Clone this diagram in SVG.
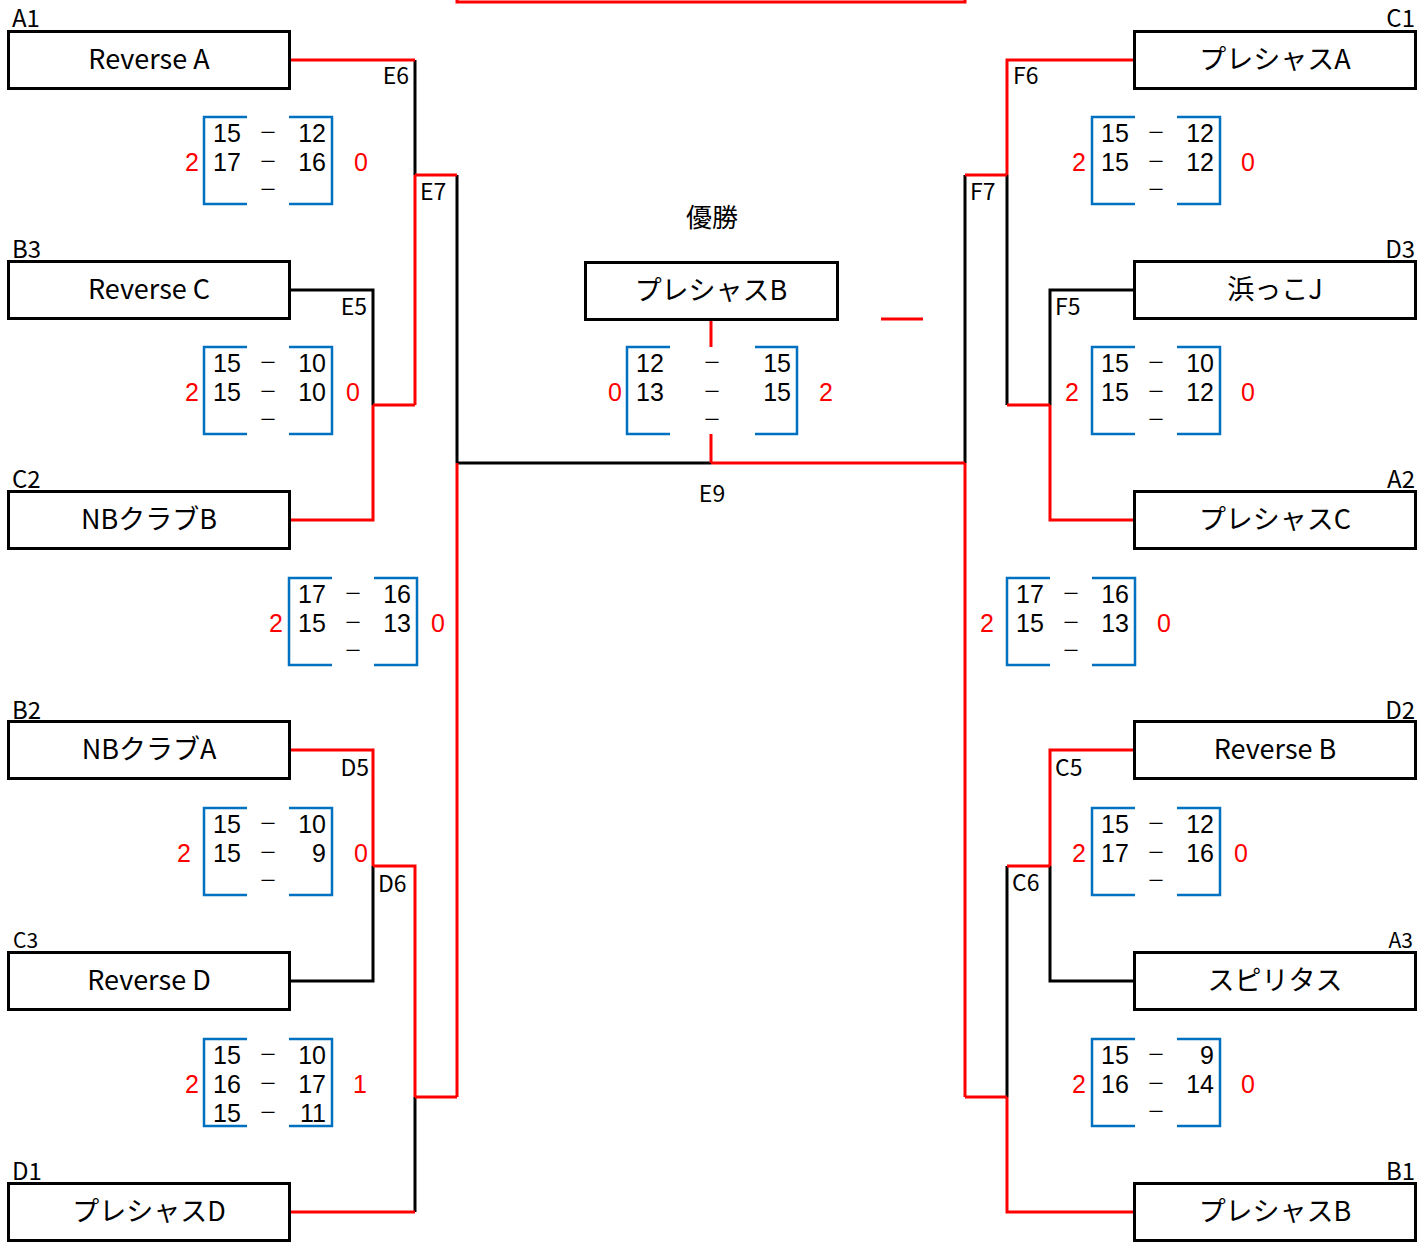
<svg xmlns="http://www.w3.org/2000/svg" width="1427" height="1242" viewBox="0 0 1427 1242">
<style>
text{font-family:"Noto Sans CJK JP","Noto Sans",sans-serif;fill:#000}
.box{fill:#fff;stroke:#000;stroke-width:3}
.nm{font-size:27px;text-anchor:middle}
.lb{font-size:24px}
.lbs{font-size:21px}
.jl{font-size:23px}
.k{fill:none;stroke:#000;stroke-width:3}
.r{fill:none;stroke:#f00;stroke-width:3}
.br{fill:none;stroke:#0070c0;stroke-width:2.5}
.sc{font-family:"Liberation Sans",Arial,sans-serif;font-size:25px}
.dash{font-size:18px;text-anchor:middle}
.e{text-anchor:end}
.w{font-family:"Liberation Sans",Arial,sans-serif;font-size:25px;fill:#f00;text-anchor:middle}
</style>
<defs>
<g id="brk"><path class="br" d="M43,0H0V87H43"/><path class="br" d="M85,0H128V87H85"/></g>
</defs>

<rect x="457" y="-10" width="508" height="12" fill="none" stroke="#f00" stroke-width="3"/>

<g id="connectors">
<path class="k" d="M415,60V175"/>
<path class="k" d="M457,175V463"/>
<path class="k" d="M290,290H373V405"/>
<path class="k" d="M457,463H711"/>
<path class="k" d="M373,866V981H290"/>
<path class="k" d="M415,1097V1212"/>
<path class="k" d="M965,175V463"/>
<path class="k" d="M1007,175V405"/>
<path class="k" d="M1134,290H1050V405"/>
<path class="k" d="M1050,866V981H1134"/>
<path class="k" d="M1007,866V1097"/>
<path class="r" d="M290,60H415"/>
<path class="r" d="M415,175H457"/>
<path class="r" d="M415,175V405"/>
<path class="r" d="M373,405H415"/>
<path class="r" d="M373,405V520H290"/>
<path class="r" d="M711,463H965"/>
<path class="r" d="M457,463V1097"/>
<path class="r" d="M290,750H373V866"/>
<path class="r" d="M373,866H415V1097"/>
<path class="r" d="M415,1097H457"/>
<path class="r" d="M415,1212H290"/>
<path class="r" d="M1134,60H1007V175"/>
<path class="r" d="M1007,175H965"/>
<path class="r" d="M965,463V1097"/>
<path class="r" d="M1007,405H1050"/>
<path class="r" d="M1050,405V520H1134"/>
<path class="r" d="M1134,750H1050V866"/>
<path class="r" d="M1050,866H1007"/>
<path class="r" d="M965,1097H1007"/>
<path class="r" d="M1007,1097V1212H1134"/>
<path class="r" d="M711,320V347"/>
<path class="r" d="M711,434V463"/>
<path class="r" d="M881,319H923"/>
</g>

<g id="junction-labels">
<text class="jl e" x="409" y="84">E6</text>
<text class="jl" x="420" y="200">E7</text>
<text class="jl e" x="367" y="315">E5</text>
<text class="jl e" x="369" y="776">D5</text>
<text class="jl" x="378" y="892">D6</text>
<text class="jl" x="1013" y="84">F6</text>
<text class="jl" x="970" y="200">F7</text>
<text class="jl" x="1055" y="315">F5</text>
<text class="jl" x="1055" y="776">C5</text>
<text class="jl" x="1012" y="891">C6</text>
<text class="jl" x="712" y="502" text-anchor="middle">E9</text>
</g>

<g id="team-A1"><text class="lb" x="12" y="27">A1</text><rect class="box" x="8.5" y="31.5" width="281" height="57"/><text class="nm" x="149" y="69">Reverse A</text></g>
<g id="team-B3"><text class="lb" x="12" y="258">B3</text><rect class="box" x="8.5" y="261.5" width="281" height="57"/><text class="nm" x="149" y="299">Reverse C</text></g>
<g id="team-C2"><text class="lb" x="12" y="488">C2</text><rect class="box" x="8.5" y="491.5" width="281" height="57"/><text class="nm" x="149" y="529">NBクラブB</text></g>
<g id="team-B2"><text class="lb" x="12" y="719">B2</text><rect class="box" x="8.5" y="721.5" width="281" height="57"/><text class="nm" x="149" y="759">NBクラブA</text></g>
<g id="team-C3"><text class="lbs" x="13" y="948">C3</text><rect class="box" x="8.5" y="952.5" width="281" height="57"/><text class="nm" x="149" y="990">Reverse D</text></g>
<g id="team-D1"><text class="lb" x="12" y="1180">D1</text><rect class="box" x="8.5" y="1183.5" width="281" height="57"/><text class="nm" x="149" y="1221">プレシャスD</text></g>

<g id="team-C1"><text class="lb e" x="1415" y="27">C1</text><rect class="box" x="1134.5" y="31.5" width="281" height="57"/><text class="nm" x="1275" y="69">プレシャスA</text></g>
<g id="team-D3"><text class="lb e" x="1415" y="258">D3</text><rect class="box" x="1134.5" y="261.5" width="281" height="57"/><text class="nm" x="1275" y="299">浜っこJ</text></g>
<g id="team-A2"><text class="lb e" x="1415" y="488">A2</text><rect class="box" x="1134.5" y="491.5" width="281" height="57"/><text class="nm" x="1275" y="529">プレシャスC</text></g>
<g id="team-D2"><text class="lb e" x="1415" y="719">D2</text><rect class="box" x="1134.5" y="721.5" width="281" height="57"/><text class="nm" x="1275" y="759">Reverse B</text></g>
<g id="team-A3"><text class="lbs e" x="1413" y="948">A3</text><rect class="box" x="1134.5" y="952.5" width="281" height="57"/><text class="nm" x="1275" y="990">スピリタス</text></g>
<g id="team-B1"><text class="lb e" x="1415" y="1180">B1</text><rect class="box" x="1134.5" y="1183.5" width="281" height="57"/><text class="nm" x="1275" y="1221">プレシャスB</text></g>

<g id="champion">
<text x="712" y="227" font-size="26" text-anchor="middle">優勝</text>
<rect class="box" x="585.5" y="262.5" width="252" height="57"/>
<text class="nm" x="711" y="300">プレシャスB</text>
</g>

<g id="score-1" transform="translate(204,117)"><use href="#brk"/><text class="sc" x="9" y="25">15</text><text class="dash" x="64" y="22">－</text><text class="sc e" x="122" y="25">12</text><text class="sc" x="9" y="54">17</text><text class="dash" x="64" y="51">－</text><text class="sc e" x="122" y="54">16</text><text class="dash" x="64" y="79">－</text><text class="w" x="-12" y="54">2</text><text class="w" x="157" y="54">0</text></g>
<g id="score-2" transform="translate(204,347)"><use href="#brk"/><text class="sc" x="9" y="25">15</text><text class="dash" x="64" y="22">－</text><text class="sc e" x="122" y="25">10</text><text class="sc" x="9" y="54">15</text><text class="dash" x="64" y="51">－</text><text class="sc e" x="122" y="54">10</text><text class="dash" x="64" y="79">－</text><text class="w" x="-12" y="54">2</text><text class="w" x="149" y="54">0</text></g>
<g id="score-3" transform="translate(289,578)"><use href="#brk"/><text class="sc" x="9" y="25">17</text><text class="dash" x="64" y="22">－</text><text class="sc e" x="122" y="25">16</text><text class="sc" x="9" y="54">15</text><text class="dash" x="64" y="51">－</text><text class="sc e" x="122" y="54">13</text><text class="dash" x="64" y="79">－</text><text class="w" x="-13" y="54">2</text><text class="w" x="149" y="54">0</text></g>
<g id="score-4" transform="translate(204,808)"><use href="#brk"/><text class="sc" x="9" y="25">15</text><text class="dash" x="64" y="22">－</text><text class="sc e" x="122" y="25">10</text><text class="sc" x="9" y="54">15</text><text class="dash" x="64" y="51">－</text><text class="sc e" x="122" y="54">9</text><text class="dash" x="64" y="79">－</text><text class="w" x="-20" y="54">2</text><text class="w" x="157" y="54">0</text></g>
<g id="score-5" transform="translate(204,1039)"><use href="#brk"/><text class="sc" x="9" y="25">15</text><text class="dash" x="64" y="22">－</text><text class="sc e" x="122" y="25">10</text><text class="sc" x="9" y="54">16</text><text class="dash" x="64" y="51">－</text><text class="sc e" x="122" y="54">17</text><text class="sc" x="9" y="83">15</text><text class="dash" x="64" y="80">－</text><text class="sc e" x="122" y="83">11</text><text class="w" x="-12" y="54">2</text><text class="w" x="156" y="54">1</text></g>

<g id="score-final" transform="translate(627,347)"><path class="br" d="M43,0H0V87H43"/><path class="br" d="M128,0H170V87H128"/><text class="sc" x="9" y="25">12</text><text class="dash" x="85" y="22">－</text><text class="sc e" x="164" y="25">15</text><text class="sc" x="9" y="54">13</text><text class="dash" x="85" y="51">－</text><text class="sc e" x="164" y="54">15</text><text class="dash" x="85" y="79">－</text><text class="w" x="-12" y="54">0</text><text class="w" x="199" y="54">2</text></g>

<g id="score-6" transform="translate(1092,117)"><use href="#brk"/><text class="sc" x="9" y="25">15</text><text class="dash" x="64" y="22">－</text><text class="sc e" x="122" y="25">12</text><text class="sc" x="9" y="54">15</text><text class="dash" x="64" y="51">－</text><text class="sc e" x="122" y="54">12</text><text class="dash" x="64" y="79">－</text><text class="w" x="-13" y="54">2</text><text class="w" x="156" y="54">0</text></g>
<g id="score-7" transform="translate(1092,347)"><use href="#brk"/><text class="sc" x="9" y="25">15</text><text class="dash" x="64" y="22">－</text><text class="sc e" x="122" y="25">10</text><text class="sc" x="9" y="54">15</text><text class="dash" x="64" y="51">－</text><text class="sc e" x="122" y="54">12</text><text class="dash" x="64" y="79">－</text><text class="w" x="-20" y="54">2</text><text class="w" x="156" y="54">0</text></g>
<g id="score-8" transform="translate(1007,578)"><use href="#brk"/><text class="sc" x="9" y="25">17</text><text class="dash" x="64" y="22">－</text><text class="sc e" x="122" y="25">16</text><text class="sc" x="9" y="54">15</text><text class="dash" x="64" y="51">－</text><text class="sc e" x="122" y="54">13</text><text class="dash" x="64" y="79">－</text><text class="w" x="-20" y="54">2</text><text class="w" x="157" y="54">0</text></g>
<g id="score-9" transform="translate(1092,808)"><use href="#brk"/><text class="sc" x="9" y="25">15</text><text class="dash" x="64" y="22">－</text><text class="sc e" x="122" y="25">12</text><text class="sc" x="9" y="54">17</text><text class="dash" x="64" y="51">－</text><text class="sc e" x="122" y="54">16</text><text class="dash" x="64" y="79">－</text><text class="w" x="-13" y="54">2</text><text class="w" x="149" y="54">0</text></g>
<g id="score-10" transform="translate(1092,1039)"><use href="#brk"/><text class="sc" x="9" y="25">15</text><text class="dash" x="64" y="22">－</text><text class="sc e" x="122" y="25">9</text><text class="sc" x="9" y="54">16</text><text class="dash" x="64" y="51">－</text><text class="sc e" x="122" y="54">14</text><text class="dash" x="64" y="79">－</text><text class="w" x="-13" y="54">2</text><text class="w" x="156" y="54">0</text></g>
</svg>
